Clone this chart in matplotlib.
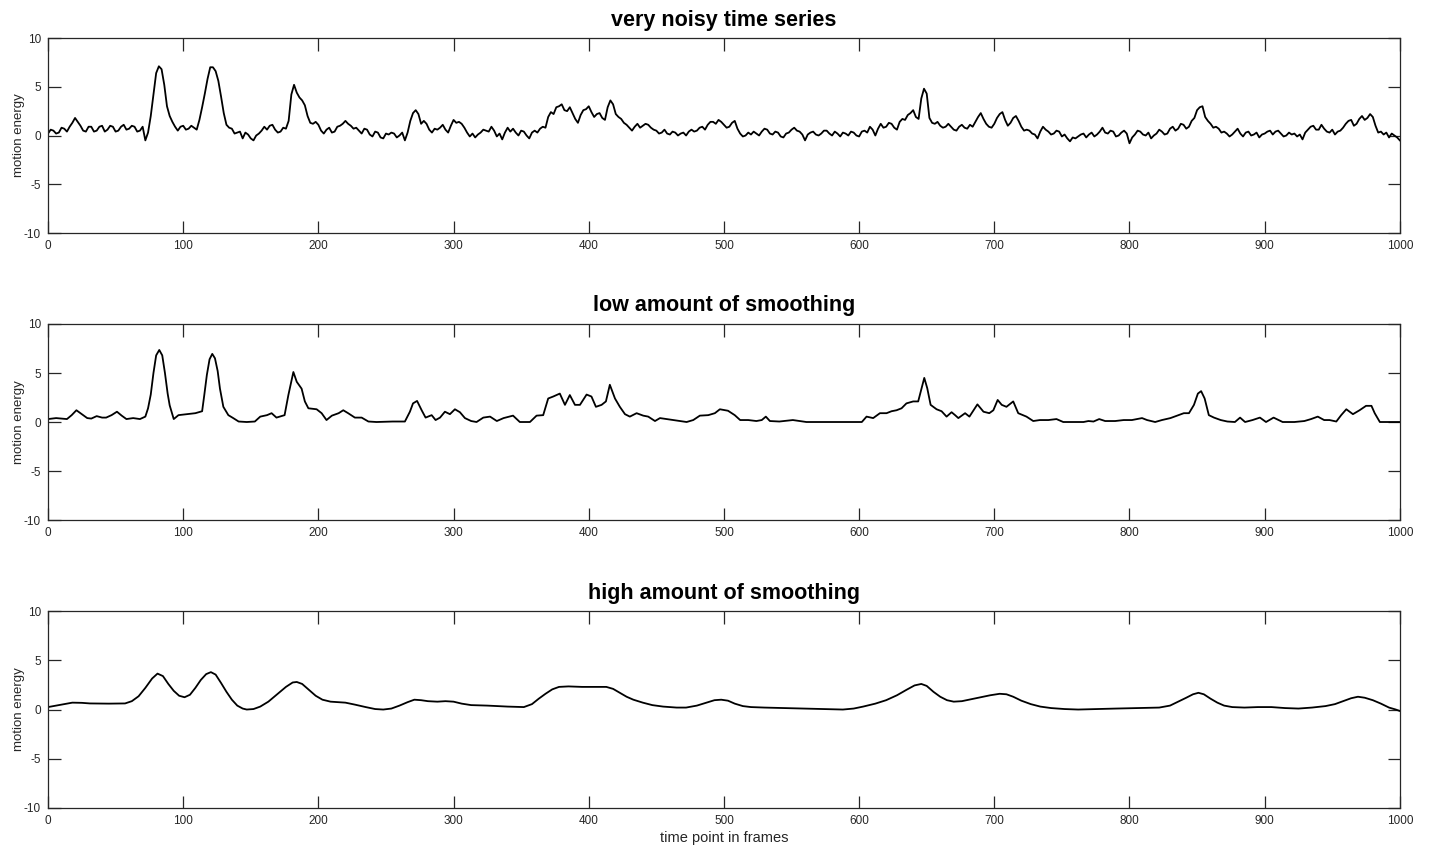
import numpy as np
import matplotlib
matplotlib.use("Agg")
import matplotlib.pyplot as plt

# raw series, read at t = 0, 4, 8, ... 1000
raw_even = [
    0.2, 0.5, 0.3, 0.7, 0.9, 1.8, 1.0, 0.4, 0.9, 0.5,
    1.0, 0.6, 0.9, 0.5, 1.1, 0.7, 0.9, 0.5, -0.5, 2.0,
    6.4, 6.8, 3.0, 1.4, 0.5, 1.0, 0.7, 0.8, 1.6, 4.3,
    7.0, 6.6, 4.0, 1.1, 0.7, 0.3, -0.3, 0.1, -0.5, 0.2,
    0.9, 1.0, 0.6, 0.4, 0.7, 4.2, 4.4, 3.6, 2.0, 1.2,
    1.1, 0.2, 0.8, 0.4, 1.0, 1.5, 1.0, 0.8, 0.2, 0.6,
    -0.1, 0.3, -0.3, 0.1, 0.2, 0.0, -0.5, 1.5, 2.6, 1.2,
    1.2, 0.3, 0.6, 1.1, 0.3, 1.6, 1.4, 0.8, -0.1, -0.2,
    0.3, 0.5, 0.9, -0.1, -0.4, 0.8, 0.7, 0.0, 0.4, -0.3,
    0.5, 0.7, 0.8, 2.4, 2.9, 3.2, 2.5, 2.3, 1.3, 2.6,
    3.0, 1.9, 2.3, 1.6, 3.6, 2.2, 1.7, 1.1, 0.5, 1.2,
    1.0, 1.1, 0.6, 0.2, 0.6, 0.1, 0.3, 0.2, 0.0, 0.6,
    0.5, 0.9, 1.1, 1.4, 1.6, 1.1, 0.9, 1.5, 0.2, 0.0,
    0.1, 0.2, 0.4, 0.6, 0.1, 0.3, -0.2, 0.3, 0.8, 0.4,
    -0.5, 0.3, 0.1, 0.2, 0.5, 0.0, 0.2, 0.3, 0.0, 0.3,
    -0.1, 0.5, 0.9, 0.0, 1.2, 0.9, 1.2, 0.6, 1.7, 2.1,
    2.6, 1.7, 4.8, 1.8, 1.2, 1.0, 0.9, 0.9, 0.5, 1.1,
    0.7, 0.9, 1.9, 1.7, 0.9, 1.2, 2.2, 1.6, 1.3, 2.0,
    0.9, 0.6, 0.2, -0.3, 0.9, 0.4, 0.2, 0.4, 0.1, -0.6,
    -0.3, 0.1, -0.2, 0.3, 0.1, 0.8, 0.2, 0.4, 0.0, 0.5,
    -0.8, 0.1, 0.4, 0.0, -0.3, 0.2, 0.4, 0.2, 0.9, 0.7,
    1.1, 0.9, 1.8, 2.9, 1.9, 1.2, 0.9, 0.3, 0.2, 0.1,
    0.7, -0.1, 0.4, 0.1, -0.2, 0.2, 0.5, 0.4, 0.2, 0.0,
    0.1, -0.1, -0.4, 0.6, 1.0, 0.6, 0.7, 0.3, 0.1, 0.5,
    1.2, 1.6, 1.2, 2.0, 1.8, 1.9, 0.3, 0.1, -0.2, 0.0,
    -0.5,
]
# raw series, read at t = 2, 6, 10, ... 998
raw_odd = [
    0.6, 0.2, 0.8, 0.4, 1.3, 1.4, 0.5, 0.9, 0.4, 0.9,
    0.4, 1.0, 0.4, 0.9, 0.6, 1.0, 0.4, 0.9, 0.3, 4.2,
    7.1, 5.2, 2.0, 0.9, 0.9, 0.6, 1.0, 0.6, 2.9, 5.8,
    7.0, 5.6, 2.3, 0.8, 0.2, 0.4, 0.3, -0.3, 0.0, 0.5,
    0.6, 1.1, 0.3, 0.8, 1.5, 5.2, 3.9, 3.1, 1.3, 1.4,
    0.5, 0.6, 0.3, 0.9, 1.2, 1.2, 0.7, 0.5, 0.7, 0.1,
    0.4, -0.2, 0.2, 0.3, -0.2, 0.3, 0.3, 2.3, 2.2, 1.5,
    0.6, 0.7, 0.8, 0.6, 1.0, 1.3, 1.2, 0.3, 0.2, 0.1,
    0.6, 0.4, 0.5, 0.2, 0.3, 0.4, 0.3, 0.5, 0.0, 0.3,
    0.3, 0.9, 1.9, 2.2, 3.0, 2.6, 2.9, 1.7, 2.1, 2.7,
    2.4, 2.2, 1.8, 2.9, 3.2, 1.9, 1.3, 0.8, 0.9, 0.8,
    1.2, 0.8, 0.5, 0.3, 0.2, 0.4, 0.0, 0.3, 0.4, 0.4,
    0.8, 0.6, 1.4, 1.2, 1.4, 0.8, 1.3, 0.7, -0.1, 0.3,
    0.4, 0.0, 0.7, 0.2, 0.4, -0.1, 0.2, 0.6, 0.5, 0.1,
    0.1, 0.4, 0.0, 0.5, 0.2, 0.4, -0.1, 0.2, 0.4, 0.0,
    0.4, 0.3, 0.6, 0.7, 0.8, 1.3, 0.8, 1.4, 1.6, 2.3,
    1.9, 3.8, 4.3, 1.3, 1.4, 0.8, 1.2, 0.6, 0.9, 0.8,
    1.1, 1.4, 2.3, 1.2, 0.8, 1.8, 2.4, 1.0, 1.8, 1.5,
    0.5, 0.5, 0.1, 0.4, 0.6, 0.1, 0.5, -0.1, -0.3, -0.2,
    -0.1, 0.2, 0.1, -0.1, 0.4, 0.3, 0.5, -0.1, 0.3, 0.2,
    -0.2, 0.5, 0.1, 0.3, 0.0, 0.6, 0.1, 0.7, 0.5, 1.2,
    0.7, 1.5, 2.6, 3.0, 1.5, 0.8, 0.7, 0.4, -0.1, 0.4,
    0.2, 0.3, 0.0, 0.3, 0.1, 0.4, 0.1, 0.5, -0.1, 0.3,
    0.2, 0.1, 0.3, 0.9, 0.6, 1.1, 0.4, 0.6, 0.4, 0.8,
    1.5, 1.0, 1.7, 1.6, 2.2, 1.0, 0.4, 0.3, 0.2, -0.2,
]

# low smoothing
t_low = [0, 6, 14, 17.5, 21, 25, 29, 32, 36, 40, 43, 47, 51, 54.5, 58, 63, 68, 72, 74, 76,
         78, 80, 82.3, 84.5, 86.5, 88.5, 90, 93, 96.5, 103, 109, 114, 115.6, 117.5, 119.5, 121.5, 123.5, 125.5, 127.2, 129.7,
         133.4, 137, 141, 147,
         153, 157, 162, 165.4, 169, 175, 177.8, 181.5, 184, 187.6, 190, 192.6, 198.7, 202.4, 206, 210, 215, 218.4, 222, 227,
         232, 237, 243, 255, 264, 267.7, 270, 273, 276.4, 279.3, 283.8, 286.7, 290, 293.6, 297.3, 301, 304.7, 308.4, 313, 317,
         322, 327, 332, 337, 344, 349, 356.5, 361.4, 366.3, 370, 373.7, 378.6, 382.4, 386, 389.8, 393.5, 398.4, 402, 405.3, 409.5,
         412.7, 415.6, 419.4, 423, 426.8, 430.4, 435.4, 440.3, 444, 449, 452.7, 457.6, 462.6, 467.5, 472.4, 477.3, 482.2, 488.4, 493.3, 497,
         503, 508, 512, 518, 524, 528, 531, 534, 541, 551, 561, 583, 602, 605.5, 610.4, 615.4, 620.3, 624, 627.7, 631.4,
         635, 640, 643.7, 646.2, 648.2, 650.4, 652.9, 657.3, 661, 664.7, 668.4, 671, 673.4, 678.4, 681.6, 687.5, 692, 696.3, 699.3, 702.5,
         705.5, 709, 714, 717.7, 723.8, 728.8, 733.7, 740, 746, 751, 766, 769.6, 773.4, 777.6, 782, 789.4, 795.7, 801.8, 809.3, 813,
         819, 824, 830.3, 835.3, 840.2, 844, 847.7, 850.6, 853, 855.6, 858.7, 862.5, 867.5, 872.4, 878, 881.8, 885.5, 891, 896.5, 901,
         906.6, 913.3, 922, 929.4, 934.3, 939.3, 944, 948, 953, 956.6, 960.4, 965.3, 970.2, 975, 979, 981.4, 985.2, 1000]
low = [0.3, 0.4, 0.3, 0.7, 1.2, 0.8, 0.4, 0.35, 0.6, 0.45, 0.45, 0.7, 1.05, 0.65, 0.3, 0.4, 0.3, 0.55, 1.4, 2.8,
       5.0, 6.8, 7.35, 6.8, 5.0, 2.9, 1.7, 0.3, 0.7, 0.8, 0.9, 1.1, 2.75, 4.8, 6.4, 6.95, 6.5, 5.2, 3.4, 1.55,
       0.7, 0.4, 0.05, 0.0,
       0.05, 0.55, 0.7, 0.9, 0.45, 0.7, 2.75, 5.1, 4.1, 3.4, 2.1, 1.4, 1.3, 0.9, 0.2, 0.65, 0.9, 1.2, 0.9, 0.45,
       0.45, 0.05, 0.0, 0.05, 0.05, 1.05, 1.9, 2.15, 1.2, 0.45, 0.7, 0.2, 0.45, 1.05, 0.8, 1.3, 1.0, 0.4, 0.1, 0.0,
       0.45, 0.55, 0.1, 0.4, 0.65, 0.0, 0.0, 0.65, 0.7, 2.4, 2.6, 2.9, 1.75, 2.75, 1.75, 1.75, 2.8, 2.6, 1.55, 1.75,
       2.1, 3.8, 2.4, 1.55, 0.8, 0.55, 0.9, 0.65, 0.55, 0.1, 0.4, 0.3, 0.2, 0.1, 0.0, 0.2, 0.65, 0.7, 0.9, 1.3,
       1.15, 0.7, 0.2, 0.2, 0.1, 0.2, 0.55, 0.1, 0.05, 0.2, 0.0, 0.0, 0.0, 0.55, 0.4, 0.9, 0.9, 1.1, 1.2, 1.4,
       1.9, 2.1, 2.1, 3.45, 4.5, 3.45, 1.75, 1.3, 1.1, 0.55, 1.0, 0.7, 0.4, 0.9, 0.55, 1.8, 1.05, 0.9, 1.2, 2.25,
       1.75, 1.55, 2.1, 0.9, 0.55, 0.1, 0.2, 0.2, 0.3, 0.0, 0.0, 0.1, 0.05, 0.3, 0.1, 0.1, 0.2, 0.2, 0.4, 0.2,
       0.0, 0.2, 0.4, 0.65, 0.9, 0.9, 1.75, 2.9, 3.15, 2.4, 0.7, 0.45, 0.2, 0.05, 0.0, 0.45, 0.0, 0.2, 0.45, 0.0,
       0.45, 0.0, 0.0, 0.1, 0.3, 0.55, 0.2, 0.2, 0.05, 0.7, 1.3, 0.8, 1.2, 1.65, 1.65, 0.9, 0.0, 0.0]

# high smoothing
t_high = [0, 8, 18, 25, 31, 45, 57, 62, 67, 72, 77, 81, 85, 89, 93, 97, 101, 105, 109, 113,
          117, 120.5, 124, 128, 132, 136, 140, 144, 147, 152, 157, 163, 170, 176, 181, 184, 188, 193, 198, 203,
          209, 215, 220, 227, 235, 242, 248, 254, 260, 266, 271, 276, 281, 288, 294, 300, 306, 313, 325, 340,
          352, 358, 363, 368, 373, 378, 385, 395, 405, 413, 418, 423, 428, 433, 440, 447, 455, 465, 472, 480,
          487, 493, 498, 503, 508, 514, 520, 530, 545, 560, 575, 588, 596, 603, 612, 620, 628, 635, 641, 646,
          650, 655, 660, 665, 670, 676, 683, 690, 697, 704, 709, 714, 720, 727, 734, 742, 752, 762, 775, 790,
          805, 822, 830, 836, 842, 847, 851, 855, 860, 865, 870, 876, 885, 895, 905, 915, 925, 935, 945, 952,
          958, 964, 969, 974, 980, 986, 992, 997, 1000]
high = [0.25, 0.45, 0.7, 0.68, 0.62, 0.6, 0.62, 0.85, 1.35, 2.2, 3.15, 3.65, 3.4, 2.6, 1.9, 1.4, 1.25, 1.5, 2.2, 3.0,
        3.6, 3.8, 3.55, 2.7, 1.8, 1.0, 0.4, 0.1, 0.0, 0.05, 0.3, 0.8, 1.6, 2.3, 2.75, 2.8, 2.6, 2.0, 1.4, 1.0,
        0.8, 0.75, 0.7, 0.5, 0.25, 0.05, 0.0, 0.1, 0.4, 0.75, 1.0, 0.95, 0.85, 0.8, 0.85, 0.8, 0.6, 0.45, 0.4, 0.3,
        0.25, 0.55, 1.1, 1.6, 2.05, 2.3, 2.35, 2.3, 2.3, 2.3, 2.1, 1.7, 1.3, 1.0, 0.7, 0.45, 0.3, 0.2, 0.2, 0.4,
        0.7, 0.95, 1.0, 0.9, 0.6, 0.35, 0.25, 0.2, 0.15, 0.1, 0.05, 0.0, 0.1, 0.3, 0.6, 0.95, 1.45, 2.0, 2.45, 2.6,
        2.4, 1.8, 1.3, 0.95, 0.8, 0.85, 1.05, 1.25, 1.45, 1.6, 1.55, 1.3, 0.9, 0.55, 0.3, 0.15, 0.05, 0.0, 0.05, 0.1,
        0.15, 0.2, 0.4, 0.8, 1.2, 1.55, 1.7, 1.55, 1.1, 0.7, 0.4, 0.25, 0.2, 0.25, 0.25, 0.15, 0.1, 0.2, 0.35, 0.55,
        0.85, 1.15, 1.3, 1.2, 0.95, 0.6, 0.2, 0.0, -0.15]

titles = ["very noisy time series", "low amount of smoothing", "high amount of smoothing"]

# merge the two raw readings into one time-ordered series
t_raw = np.empty(len(raw_even) + len(raw_odd))
raw = np.empty_like(t_raw)
t_raw[0::2] = np.arange(0, 1001, 4)
t_raw[1::2] = np.arange(2, 1000, 4)
raw[0::2] = raw_even
raw[1::2] = raw_odd

plt.rcParams['font.family'] = ['Liberation Sans', 'DejaVu Sans']
plt.rcParams['axes.unicode_minus'] = False

fig = plt.figure(figsize=(14.29, 8.56), dpi=100)
boxes = [[0.0336, 0.7278, 0.946, 0.2278],
         [0.0336, 0.3925, 0.946, 0.2290],
         [0.0336, 0.0561, 0.946, 0.2300]]
series = [(t_raw, raw), (t_low, low), (t_high, high)]

for box, (tx, ty), title in zip(boxes, series, titles):
    ax = fig.add_axes(box)
    ax.plot(tx, ty, color='black', lw=1.3)
    ax.set_xlim(0, 1000)
    ax.set_ylim(-10, 10)
    ax.set_xticks(np.arange(0, 1001, 100))
    ax.set_yticks([-10, -5, 0, 5, 10])
    ax.tick_params(direction='in', top=True, right=True, length=9, width=0.9,
                   labelsize=8.5, colors='#262626', pad=5)
    for s in ax.spines.values():
        s.set_color('#262626')
        s.set_linewidth(0.9)
    ax.set_ylabel('motion energy', fontsize=9.5, color='#262626', labelpad=-1)
    ax.set_title(title, fontsize=15.5, fontweight='bold', pad=9)

ax.set_xlabel('time point in frames', fontsize=10.5, color='#262626', labelpad=3)

fig.savefig('out.png', dpi=100)
